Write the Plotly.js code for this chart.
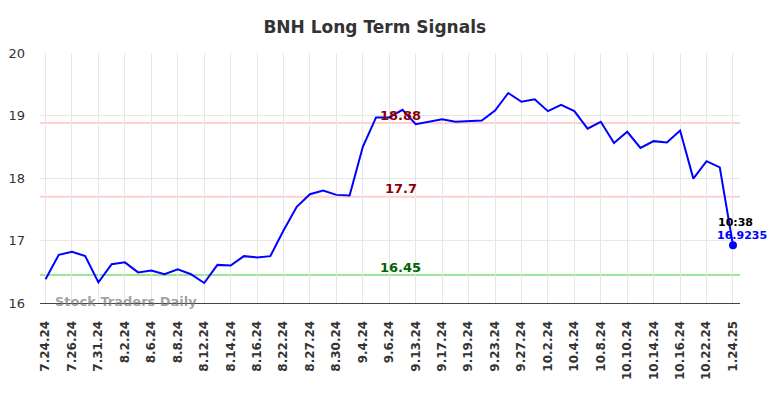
<!DOCTYPE html>
<html>
<head>
<meta charset="utf-8">
<script src="https://cdn.plot.ly/plotly-3.0.1.min.js"></script>
<style>html,body{margin:0;padding:0;background:#fff;}#chart{width:784px;height:398px;}</style>
</head>
<body>
<div id="chart"></div>
<script>
const tickLabels = ["7.24.24","7.26.24","7.31.24","8.2.24","8.6.24","8.8.24","8.12.24","8.14.24","8.16.24","8.22.24","8.27.24","8.30.24","9.4.24","9.6.24","9.13.24","9.17.24","9.19.24","9.23.24","9.27.24","10.2.24","10.4.24","10.8.24","10.10.24","10.14.24","10.16.24","10.22.24","1.24.25"];
const prices = [16.38,16.77,16.82,16.75,16.33,16.62,16.65,16.49,16.52,16.46,16.54,16.46,16.32,16.61,16.60,16.75,16.73,16.75,17.16,17.54,17.74,17.80,17.73,17.72,18.50,18.97,18.97,19.09,18.86,18.90,18.94,18.90,18.91,18.92,19.08,19.36,19.22,19.26,19.07,19.17,19.07,18.79,18.90,18.56,18.74,18.48,18.59,18.57,18.76,17.99,18.27,18.17,16.9235];
const resistanceHigh = 18.88;
const resistanceLow = 17.7;
const support = 16.45;
const lastTime = "10:38";
const lastPrice = 16.9235;

const idx = prices.map((_, i) => i);
const tickVals = tickLabels.map((_, i) => i * 2);
const lastIdx = prices.length - 1;

const hline = (y, color) => ({type:'line', xref:'paper', x0:0, x1:1, yref:'y', y0:y, y1:y, line:{color:color, width:2}, layer:'below'});

const traces = [
  {x: idx, y: prices, type:'scatter', mode:'lines', line:{color:'#0000ff', width:2}, hoverinfo:'skip'},
  {x: [lastIdx], y: [lastPrice], type:'scatter', mode:'markers', marker:{color:'#0000ff', size:8}, hoverinfo:'skip'}
];

const layout = {
  width:784, height:398,
  margin:{l:40, r:44, t:53, b:95},
  paper_bgcolor:'#fff', plot_bgcolor:'#fff',
  showlegend:false,
  title:{text:'BNH Long Term Signals', x:0.478, xanchor:'center', y:0.932, yanchor:'middle', font:{family:'DejaVu Sans', size:17, color:'#333', weight:'bold'}},
  xaxis:{range:[-0.42, 52.53], tickvals:tickVals, ticktext:tickLabels, tickangle:-90,
    tickfont:{family:'DejaVu Sans', size:12, color:'#333', weight:'bold'}, ticklabelstandoff:12,
    showgrid:true, gridcolor:'#e6e6e6', gridwidth:1, zeroline:false,
    showline:true, linecolor:'#444', linewidth:1, ticks:'', fixedrange:true},
  yaxis:{range:[16, 20], tickvals:[16,17,18,19,20], tickfont:{family:'DejaVu Sans', size:13, color:'#333'}, ticklabelstandoff:14,
    showgrid:true, gridcolor:'#e6e6e6', gridwidth:1, zeroline:false, ticks:'', fixedrange:true},
  shapes:[hline(resistanceHigh, '#ffd0d0'), hline(resistanceLow, '#ffd0d0'), hline(support, '#99e699')],
  annotations:[
    {x:26.85, y:resistanceHigh, xref:'x', yref:'y', text:String(resistanceHigh), showarrow:false, yshift:8, font:{family:'DejaVu Sans', size:13, color:'#8b0000', weight:'bold'}},
    {x:26.85, y:resistanceLow, xref:'x', yref:'y', text:String(resistanceLow), showarrow:false, yshift:8, font:{family:'DejaVu Sans', size:13, color:'#8b0000', weight:'bold'}},
    {x:26.85, y:support, xref:'x', yref:'y', text:String(support), showarrow:false, yshift:7, font:{family:'DejaVu Sans', size:13, color:'#006400', weight:'bold'}},
    {x:lastIdx, y:lastPrice, xref:'x', yref:'y', text:lastTime, showarrow:false, yshift:23, xshift:3, font:{family:'DejaVu Sans', size:11, color:'#000', weight:'bold'}},
    {x:lastIdx, y:lastPrice, xref:'x', yref:'y', text:String(lastPrice), showarrow:false, yshift:10, xshift:9, font:{family:'DejaVu Sans', size:11, color:'#0000ff', weight:'bold'}},
    {x:0.6, y:16, xref:'x', yref:'y', xanchor:'left', yanchor:'bottom', text:'Stock Traders Daily', showarrow:false, yshift:-8, font:{family:'DejaVu Sans', size:13, color:'rgba(120,120,120,0.7)', weight:'bold'}}
  ]
};

Plotly.newPlot('chart', traces, layout, {displayModeBar:false, staticPlot:true});
</script>
</body>
</html>
